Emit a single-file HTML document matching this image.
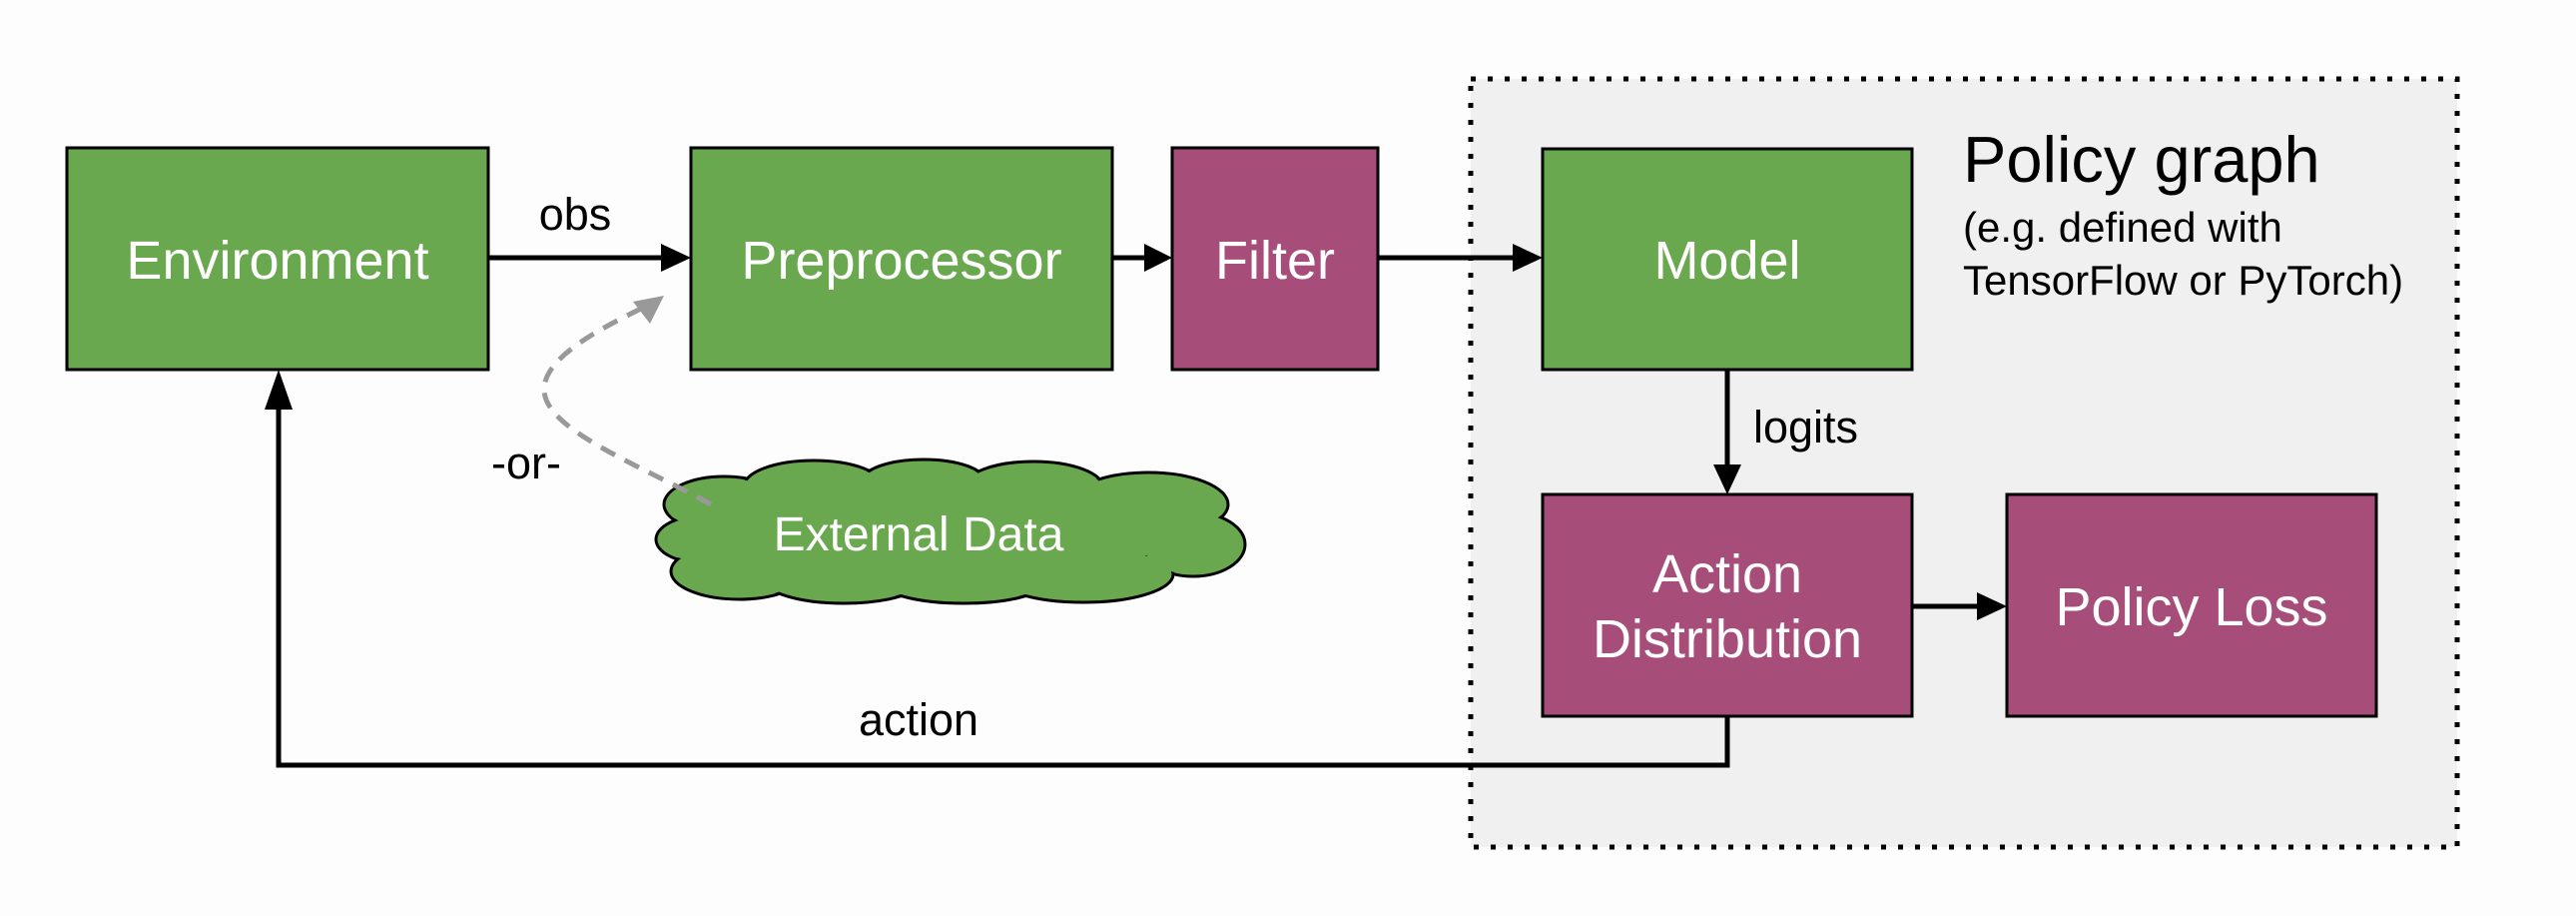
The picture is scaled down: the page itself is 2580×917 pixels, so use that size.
<!DOCTYPE html>
<html><head><meta charset="utf-8"><style>
html,body{margin:0;padding:0;background:#fdfdfd}
svg{display:block}
text{font-family:"Liberation Sans",Arial,sans-serif}
</style></head><body>
<svg width="2580" height="917" viewBox="0 0 2580 917" xmlns="http://www.w3.org/2000/svg">
<rect width="2580" height="917" fill="#fdfdfd"/>
<rect x="1473" y="79" width="988" height="769" fill="#f0f0f0" stroke="#000" stroke-width="5" stroke-dasharray="5 12"/>
<g stroke="#000" stroke-width="3">
<rect x="67" y="148" width="422" height="222" fill="#6aa84f"/>
<rect x="692" y="148" width="422" height="222" fill="#6aa84f"/>
<rect x="1174" y="148" width="206" height="222" fill="#a64d79"/>
<rect x="1545" y="149" width="370" height="221" fill="#6aa84f"/>
<rect x="1545" y="495" width="370" height="222" fill="#a64d79"/>
<rect x="2010" y="495" width="370" height="222" fill="#a64d79"/>
</g>
<g fill="#6aa84f" stroke="#000" stroke-width="3">
<ellipse cx="725" cy="505" rx="60" ry="28"/><ellipse cx="815" cy="487" rx="70" ry="26"/><ellipse cx="925" cy="482" rx="62" ry="22"/><ellipse cx="1035" cy="488" rx="70" ry="26"/><ellipse cx="1150" cy="505" rx="80" ry="32"/><ellipse cx="1195" cy="545" rx="52" ry="32"/><ellipse cx="705" cy="540" rx="48" ry="24"/><ellipse cx="740" cy="572" rx="68" ry="28"/><ellipse cx="845" cy="580" rx="80" ry="24"/><ellipse cx="965" cy="584" rx="80" ry="20"/><ellipse cx="1085" cy="575" rx="90" ry="28"/>
</g>
<g fill="#6aa84f">
<ellipse cx="725" cy="505" rx="58" ry="26"/><ellipse cx="815" cy="487" rx="68" ry="24"/><ellipse cx="925" cy="482" rx="60" ry="20"/><ellipse cx="1035" cy="488" rx="68" ry="24"/><ellipse cx="1150" cy="505" rx="78" ry="30"/><ellipse cx="1195" cy="545" rx="50" ry="30"/><ellipse cx="705" cy="540" rx="46" ry="22"/><ellipse cx="740" cy="572" rx="66" ry="26"/><ellipse cx="845" cy="580" rx="78" ry="22"/><ellipse cx="965" cy="584" rx="78" ry="18"/><ellipse cx="1085" cy="575" rx="88" ry="26"/>
<ellipse cx="930" cy="535" rx="240" ry="50"/>
</g>
<g stroke="#000" stroke-width="5" fill="none">
<line x1="489" y1="258" x2="665" y2="258"/>
<line x1="1114" y1="258" x2="1150" y2="258"/>
<line x1="1380" y1="258" x2="1518" y2="258"/>
<line x1="1730" y1="370" x2="1730" y2="468"/>
<line x1="1915" y1="607" x2="1983" y2="607"/>
<polyline points="1730,717 1730,766 279,766 279,400"/>
</g>
<g fill="#000">
<polygon points="692,258 662,244 662,272"/>
<polygon points="1174,258 1146,244 1146,272"/>
<polygon points="1545,258 1515,244 1515,272"/>
<polygon points="1730,495 1716,465 1744,465"/>
<polygon points="2010,607 1980,593 1980,621"/>
<polygon points="279,370 265,410 293,410"/>
</g>
<path d="M712,505 C640,465 545,430 545,390 C545,355 610,325 650,305" stroke="#999" stroke-width="5" fill="none" stroke-dasharray="16 11"/>
<polygon points="665,296 634,302 651,324" fill="#999"/>
<g fill="#fff" font-size="54" text-anchor="middle">
<text x="278" y="279">Environment</text>
<text x="903" y="279">Preprocessor</text>
<text x="1277" y="279">Filter</text>
<text x="1730" y="279">Model</text>
<text x="1730" y="593">Action</text>
<text x="1730" y="658">Distribution</text>
<text x="2195" y="626">Policy Loss</text>
<text x="920" y="551" font-size="48">External Data</text>
</g>
<g fill="#000" font-size="45">
<text x="576" y="230" text-anchor="middle">obs</text>
<text x="527" y="479" text-anchor="middle">-or-</text>
<text x="920" y="736" text-anchor="middle">action</text>
<text x="1756" y="443">logits</text>
<text x="1966" y="182" font-size="65">Policy graph</text>
<text x="1966" y="242" font-size="42">(e.g. defined with</text>
<text x="1966" y="295" font-size="42">TensorFlow or PyTorch)</text>
</g>
</svg>
</body></html>
